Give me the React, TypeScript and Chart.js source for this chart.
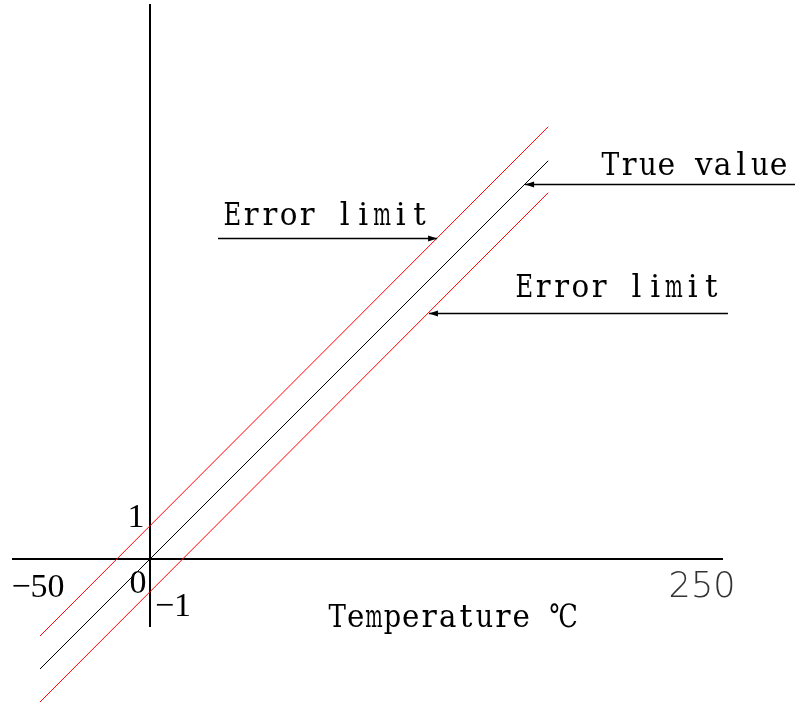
import React, { useEffect, useRef } from "react";
import { Chart, registerables } from "chart.js";

Chart.register(...registerables);

// ---- data (temperature units) ----
const temperatures = [-50, 181];
const trueValue = [-50, 181];
const upperLimit = [-35, 196.5];
const lowerLimit = [-65, 166.5];

const xTickValues = [-50, 0, 250];
const xTickLabels = ["−50", "0", "250"];
const yTickValues = [15, -15];
const yTickLabels = ["1", "−1"];

const xAxisTitle = "Temperature ℃";

const calloutLabels = ["True value", "Error limit", "Error limit"];
const calloutTipX = [170.5, 130.5, 126.8];
const calloutTipY = [170.5, 145.8, 111.8];
const calloutTailX = [293.5, 30.9, 262.7];
const calloutTextX = [205, 33.2, 165.9];
const calloutTextY = [174.5, 151.8, 119.1];

const X_MIN = -62.727;
const X_MAX = 260.45;
const Y_MIN = -30.909;
const Y_MAX = 252.27;

function drawMono(ctx: CanvasRenderingContext2D, text: string, left: number, baseline: number, cell: number, font: string) {
  ctx.save();
  ctx.font = font;
  ctx.textAlign = "center";
  ctx.textBaseline = "alphabetic";
  ctx.fillStyle = "#000";
  let x = left;
  for (const ch of text) {
    const w = ch === "℃" ? cell * 1.6 : cell;
    if (ch !== " ") ctx.fillText(ch, x + w / 2, baseline, w - 1);
    x += w;
  }
  ctx.restore();
}

const decorPlugin = {
  id: "decor",
  beforeDatasetsDraw(chart: any) {
    const { ctx, chartArea, scales } = chart;
    const xs = scales.x;
    const ys = scales.y;
    const ox = xs.getPixelForValue(0);
    const oy = ys.getPixelForValue(0);
    ctx.save();
    ctx.strokeStyle = "#000";
    ctx.lineWidth = 2;
    ctx.beginPath();
    ctx.moveTo(chartArea.left, oy);
    ctx.lineTo(chartArea.right, oy);
    ctx.moveTo(ox, chartArea.top);
    ctx.lineTo(ox, chartArea.bottom);
    ctx.stroke();
    ctx.restore();
  },
  afterDatasetsDraw(chart: any) {
    const { ctx, scales } = chart;
    const xs = scales.x;
    const ys = scales.y;
    const ox = xs.getPixelForValue(0);
    const oy = ys.getPixelForValue(0);

    const serif = "34px 'Liberation Serif', serif";
    ctx.save();
    ctx.textAlign = "center";
    ctx.textBaseline = "alphabetic";
    const xOff = [[-2, 38], [-12, 34], [2, 38]];
    xTickValues.forEach((v, i) => {
      const px = xs.getPixelForValue(v) + xOff[i][0];
      const py = oy + xOff[i][1];
      if (xTickLabels[i] === "250") {
        ctx.font = "200 35px 'DejaVu Sans', sans-serif";
        ctx.fillStyle = "#333";
      } else {
        ctx.font = serif;
        ctx.fillStyle = "#000";
      }
      ctx.fillText(xTickLabels[i], px, py);
    });
    ctx.font = serif;
    ctx.fillStyle = "#000";
    const yOff = [[-14, 1], [23, 24]];
    yTickValues.forEach((v, i) => {
      ctx.fillText(yTickLabels[i], ox + yOff[i][0], ys.getPixelForValue(v) + yOff[i][1]);
    });
    ctx.restore();

    drawMono(ctx, xAxisTitle, xs.getPixelForValue(80.9), ys.getPixelForValue(-30.9), 18.4, "32px 'DejaVu Serif', serif");

    calloutLabels.forEach((label, i) => {
      const tipX = xs.getPixelForValue(calloutTipX[i]);
      const tailX = xs.getPixelForValue(calloutTailX[i]);
      const y = Math.round(ys.getPixelForValue(calloutTipY[i])) + 0.5;
      ctx.save();
      ctx.strokeStyle = "#000";
      ctx.lineWidth = 1.5;
      ctx.beginPath();
      ctx.moveTo(tipX, y);
      ctx.lineTo(tailX, y);
      ctx.stroke();
      const dir = tailX > tipX ? 1 : -1;
      ctx.fillStyle = "#000";
      ctx.beginPath();
      ctx.moveTo(tipX, y);
      ctx.lineTo(tipX + dir * 9, y - 3);
      ctx.lineTo(tipX + dir * 9, y + 3);
      ctx.closePath();
      ctx.fill();
      ctx.restore();
      drawMono(ctx, label, xs.getPixelForValue(calloutTextX[i]), ys.getPixelForValue(calloutTextY[i]), 18.7, "31px 'DejaVu Serif', serif");
    });
  },
};

export default function App() {
  const ref = useRef<HTMLCanvasElement | null>(null);
  useEffect(() => {
    if (!ref.current) return;
    const mk = (ys: number[]) => temperatures.map((t, i) => ({ x: t, y: ys[i] }));
    const chart = new Chart(ref.current, {
      type: "line",
      data: {
        datasets: [
          { label: "Error limit (upper)", data: mk(upperLimit), borderColor: "#ff0000", borderWidth: 1, pointRadius: 0, clip: false } as any,
          { label: "True value", data: mk(trueValue), borderColor: "#000000", borderWidth: 1, pointRadius: 0, clip: false } as any,
          { label: "Error limit (lower)", data: mk(lowerLimit), borderColor: "#ff0000", borderWidth: 1, pointRadius: 0, clip: false } as any,
        ],
      },
      options: {
        animation: false,
        responsive: false,
        devicePixelRatio: 1,
        layout: { padding: { left: 12, right: 72, top: 4, bottom: 77 } },
        plugins: { legend: { display: false }, tooltip: { enabled: false }, title: { display: false } },
        scales: {
          x: { type: "linear", min: X_MIN, max: X_MAX, display: false },
          y: { type: "linear", min: Y_MIN, max: Y_MAX, display: false },
        },
        events: [],
      },
      plugins: [decorPlugin],
    });
    return () => chart.destroy();
  }, []);
  return (
    <div style={{ position: "fixed", left: 0, top: 0, width: 795, height: 704, background: "#fff" }}>
      <canvas ref={ref} width={795} height={704} style={{ display: "block", width: 795, height: 704 }} />
    </div>
  );
}
